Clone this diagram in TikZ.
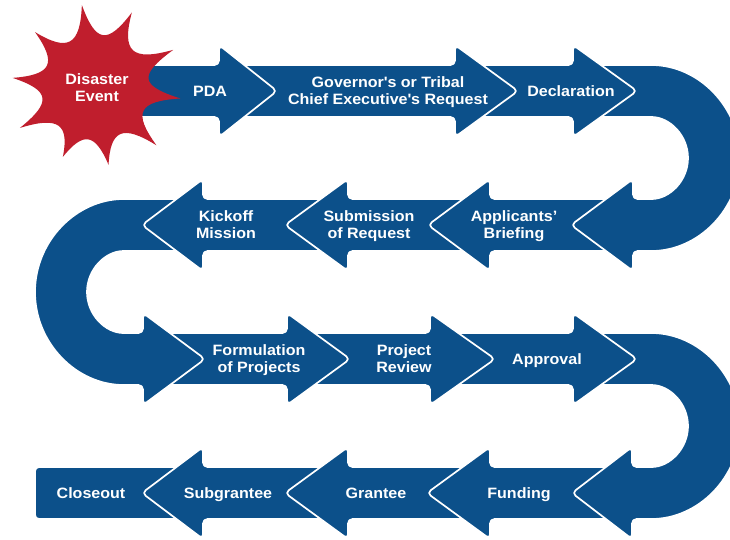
\documentclass[tikz,border=0pt]{standalone}
\usepackage{fontspec}
\setmainfont{Liberation Sans}[FakeStretch=1.07]
\definecolor{fblue}{RGB}{12,80,138}
\definecolor{fred}{RGB}{192,30,45}
\newcommand\arrowseg[4]{\path[seg] (#2,#1-26) -- (#3,#1-26) -- (#3,#1-46) -- (#4,#1) -- (#3,#1+46) -- (#3,#1+26) -- (#2,#1+26) -- cycle;}
\begin{document}
\begin{tikzpicture}[x=1pt,y=-1pt,
  seg/.style={fill=fblue, draw=white, line width=1.7pt, rounded corners=4.5pt, line join=round},
  lab/.style={text=white, font=\bfseries\fontsize{15}{17}\selectfont, anchor=base, inner sep=0pt}]
\useasboundingbox (0,0) rectangle (730,539);
\clip (0,0) rectangle (730,539);
\fill[white] (0,0) rectangle (730,539);
% row 4
\path[seg, rounded corners=4pt] (35,467) rectangle (195,519);
\arrowseg{493}{340}{203}{142}
\arrowseg{493}{482}{348}{285}
\arrowseg{493}{624}{490}{427}
% U3
\path[seg] (581,333) -- (647,333) arc(-90:90:93) -- (632,519) -- (632,539) -- (572,493) -- (632,447) -- (632,467) -- (647,467) arc(90:-90:41) -- (581,385) -- cycle;
% row 3
\arrowseg{359}{438}{573}{637}
\arrowseg{359}{295}{430}{495}
\arrowseg{359}{151}{287}{350}
% U2
\path[seg] (195,199) -- (128,199) arc(270:90:93) -- (143,385) -- (143,405) -- (205,359) -- (143,313) -- (143,333) -- (128,333) arc(90:270:41) -- (195,251) -- cycle;
% row 2
\arrowseg{225}{340}{203}{142}
\arrowseg{225}{482}{348}{285}
\arrowseg{225}{625}{490}{428}
% U1
\path[seg] (581,65) -- (647,65) arc(-90:90:93) -- (633,251) -- (633,271) -- (571,225) -- (633,179) -- (633,199) -- (647,199) arc(90:-90:41) -- (581,117) -- cycle;
% row 1
\arrowseg{91}{463}{573}{637}
\arrowseg{91}{227}{455}{518}
\arrowseg{91}{130}{219}{277}
% star
\begin{scope}[shift={(95,88)}]
\fill[fred] (261:84)
  .. controls (271:45) and (286:45) .. (296:84)
  .. controls (306:45) and (324:45) .. (334:87)
  .. controls (344:45) and (357:45) .. (367:86)
  .. controls (377:45) and (393:45) .. (403:84)
  .. controls (413:45) and (430:45) .. (440:78)
  .. controls (450:45) and (465:45) .. (475:76)
  .. controls (485:45) and (502:45) .. (512:85)
  .. controls (522:45) and (537:45) .. (547:83)
  .. controls (557:45) and (573:45) .. (583:82)
  .. controls (593:45) and (611:45) .. (621:84) -- cycle;
\end{scope}
% labels
\node[lab] (dis1) at (97,84.5) {Disaster};
\node[lab] (dis2) at (97,101.5) {Event};
\node[lab] (pda) at (210,96) {PDA};
\node[lab] (gov1) at (388,87.5) {Governor\textquotesingle s or Tribal};
\node[lab] (gov2) at (388,104.5) {Chief Executive\textquotesingle s Request};
\node[lab] (decl) at (571,96) {Declaration};
\node[lab] (kick1) at (226,221.5) {Kickoff};
\node[lab] (kick2) at (226,238.5) {Mission};
\node[lab] (sub1) at (369,221.5) {Submission};
\node[lab] (sub2) at (369,238.5) {of Request};
\node[lab] (app1) at (514,221.5) {Applicants’};
\node[lab] (app2) at (514,238.5) {Briefing};
\node[lab] (form1) at (259,355.5) {Formulation};
\node[lab] (form2) at (259,372.5) {of Projects};
\node[lab] (proj1) at (404,355.5) {Project};
\node[lab] (proj2) at (404,372.5) {Review};
\node[lab] (appr) at (547,364) {Approval};
\node[lab] (close) at (91,498) {Closeout};
\node[lab] (subg) at (228,498) {Subgrantee};
\node[lab] (grant) at (376,498) {Grantee};
\node[lab] (fund) at (519,498) {Funding};
\end{tikzpicture}
\end{document}
